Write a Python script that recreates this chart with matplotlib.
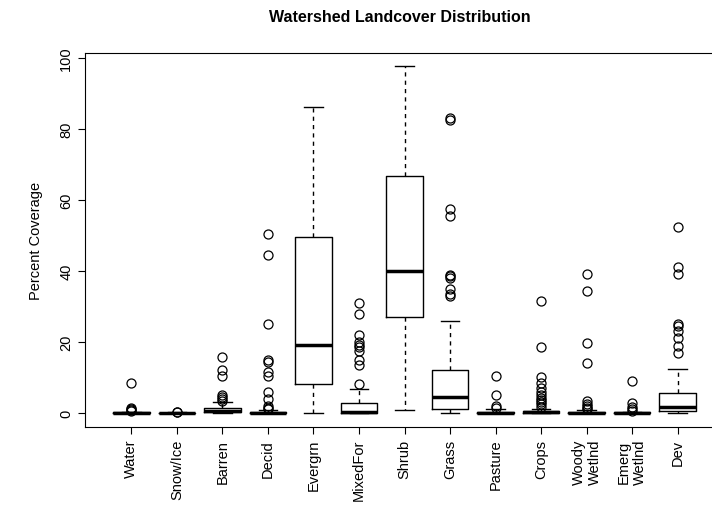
import matplotlib
matplotlib.use("Agg")
import matplotlib.pyplot as plt

plt.rcParams['font.family'] = ['Liberation Sans', 'DejaVu Sans']

labels = ["Water", "Snow/Ice", "Barren", "Decid", "Evergrn", "MixedFor", "Shrub",
          "Grass", "Pasture", "Crops", "Woody\nWetlnd", "Emerg\nWetlnd", "Dev"]
q1 = [0, 0, 0.2, 0, 8.2, 0, 26.9, 1.0, 0, 0, 0, 0, 0.5]
med = [0.05, 0, 0.5, 0.1, 19.2, 0.3, 40.0, 4.4, 0.1, 0.2, 0.1, 0.05, 1.6]
q3 = [0.3, 0.1, 1.4, 0.3, 49.6, 2.8, 66.7, 12.0, 0.4, 0.6, 0.3, 0.2, 5.5]
whislo = [0, 0, 0, 0, 0, 0, 0.7, 0, 0, 0, 0, 0, 0.1]
whishi = [0.4, 0.15, 3.0, 0.7, 86.2, 6.8, 97.6, 25.9, 1.0, 1.2, 0.7, 0.4, 12.4]
fliers = [
    [8.5, 1.5, 1.2, 0.9, 0.6],
    [0.3, 0.2],
    [3.5, 4.0, 4.5, 5.0, 10.5, 12.0, 15.8],
    [50.5, 44.5, 25.2, 15.0, 14.5, 11.5, 10.5, 6.0, 4.0, 2.0, 1.5, 1.0],
    [],
    [8.3, 13.5, 15.0, 17.5, 18.5, 19.2, 20.0, 22.0, 28.0, 31.0],
    [],
    [33.0, 33.5, 35.0, 38.0, 38.5, 39.0, 55.5, 57.5, 82.5, 83.0],
    [1.5, 2.0, 5.0, 10.3],
    [1.8, 2.4, 3.0, 3.6, 4.2, 5.0, 6.0, 7.0, 8.5, 10.0, 18.7, 31.5],
    [1.0, 1.5, 2.0, 2.5, 3.5, 14.2, 19.8, 34.3, 39.2],
    [0.6, 1.0, 1.8, 2.8, 9.0],
    [17.0, 19.0, 21.0, 23.0, 24.5, 25.0, 39.2, 41.0, 52.5],
]

stats = [dict(q1=a, med=b, q3=c, whislo=d, whishi=e, fliers=f)
         for a, b, c, d, e, f in zip(q1, med, q3, whislo, whishi, fliers)]

fig = plt.figure(figsize=(7.12, 5.1), dpi=100)
ax = fig.add_axes([85/712, 1-428/510, (724-85)/712, (428-54)/510])
ax.bxp(stats, widths=0.8, showcaps=True,
       boxprops=dict(color='black', linewidth=1),
       medianprops=dict(color='black', linewidth=2.5),
       whiskerprops=dict(color='black', linewidth=1, linestyle=(0, (3, 3))),
       capprops=dict(color='black', linewidth=1),
       flierprops=dict(marker='o', markerfacecolor='none', markeredgecolor='black',
                       markersize=6.5, markeredgewidth=0.9))
ax.set_xlim(-0.02, 14.02)
ax.set_ylim(-3.95, 101.4)
ax.set_xticks(range(1, 14))
ax.set_xticklabels(labels, rotation=90, fontsize=10.5)
ax.set_yticks([0, 20, 40, 60, 80, 100])
ax.set_yticklabels(['0', '20', '40', '60', '80', '100'], rotation=90, va='center', fontsize=10.5)
ax.set_ylabel("Percent Coverage", fontsize=10.5, labelpad=12)
fig.text(400/712, 1-18/510, "Watershed Landcover Distribution", fontweight='bold',
         fontsize=11.5, ha='center', va='center')
ax.tick_params(direction='out', length=5)
fig.savefig("out.png", dpi=100)
